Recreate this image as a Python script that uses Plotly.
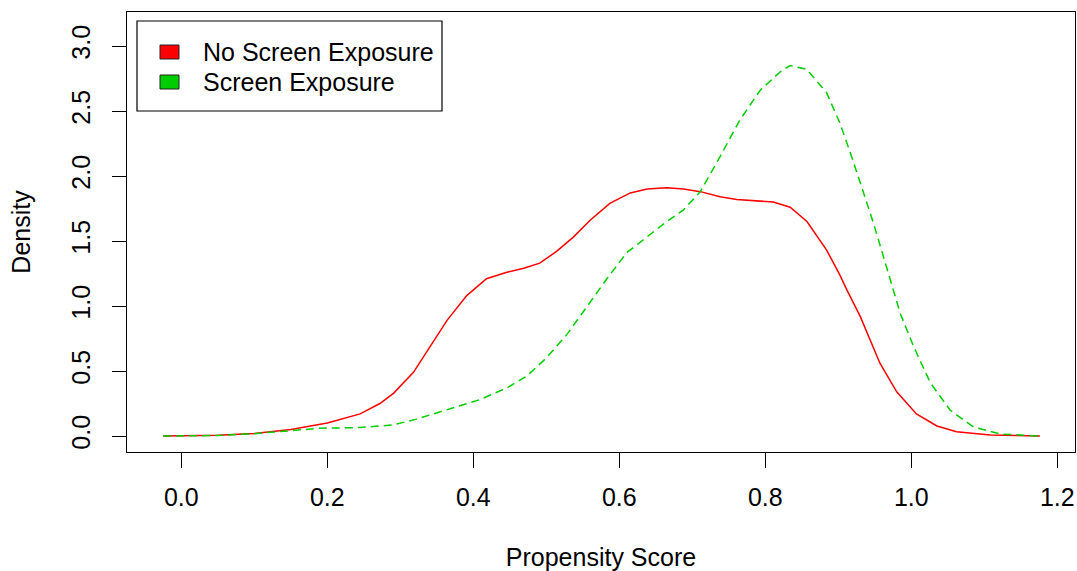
import plotly.graph_objects as go

# Density estimates
x_no = [-0.025, 0.0, 0.05, 0.10, 0.15, 0.20, 0.245, 0.272, 0.291, 0.318, 0.341, 0.364,
        0.391, 0.418, 0.446, 0.469, 0.491, 0.514, 0.537, 0.560, 0.587, 0.615, 0.638,
        0.665, 0.688, 0.711, 0.738, 0.761, 0.811, 0.834, 0.857, 0.884, 0.902, 0.912,
        0.93, 0.957, 0.98, 1.007, 1.035, 1.062, 1.108, 1.176]
y_no = [0.0, 0.0, 0.005, 0.02, 0.05, 0.10, 0.17, 0.25, 0.33, 0.49, 0.69, 0.89,
        1.08, 1.21, 1.26, 1.29, 1.33, 1.42, 1.53, 1.66, 1.79, 1.87, 1.90,
        1.91, 1.90, 1.88, 1.84, 1.82, 1.80, 1.76, 1.65, 1.43, 1.24, 1.12,
        0.92, 0.56, 0.34, 0.17, 0.077, 0.033, 0.008, 0.0]

x_yes = [-0.025, 0.0, 0.05, 0.10, 0.144, 0.19, 0.245, 0.29, 0.322, 0.364, 0.409, 0.446,
         0.473, 0.50, 0.528, 0.555, 0.583, 0.61, 0.638, 0.665, 0.688, 0.711, 0.738,
         0.765, 0.793, 0.82, 0.834, 0.857, 0.884, 0.902, 0.92, 0.948, 0.966, 0.985,
         1.003, 1.026, 1.053, 1.085, 1.122, 1.176]
y_yes = [0.0, 0.0, 0.004, 0.018, 0.04, 0.06, 0.065, 0.085, 0.13, 0.20, 0.28, 0.37,
         0.46, 0.60, 0.78, 0.99, 1.21, 1.41, 1.53, 1.65, 1.74, 1.88, 2.15,
         2.43, 2.66, 2.80, 2.85, 2.82, 2.64, 2.41, 2.12, 1.64, 1.30, 0.94,
         0.69, 0.41, 0.20, 0.07, 0.015, 0.0]

x_ticks = [0.0, 0.2, 0.4, 0.6, 0.8, 1.0, 1.2]
x_tick_labels = ["0.0", "0.2", "0.4", "0.6", "0.8", "1.0", "1.2"]
y_ticks = [0.0, 0.5, 1.0, 1.5, 2.0, 2.5, 3.0]
y_tick_labels = ["0.0", "0.5", "1.0", "1.5", "2.0", "2.5", "3.0"]

series_names = ["No Screen Exposure", "Screen Exposure"]
RED = "#FF0000"
GREEN = "#00CD00"
FONT = "Liberation Sans, Arial, Helvetica, sans-serif"
FS = 25

W, H = 1077, 571
ML, MR, MT, MB = 127, 2, 12, 119
PW, PH = W - ML - MR, H - MT - MB


def px_x(p):
    return (p - ML) / PW


def px_y(p):
    return (H - MB - p) / PH


fig = go.Figure()
fig.add_trace(go.Scatter(x=x_no, y=y_no, mode="lines", name=series_names[0], showlegend=False,
                         line=dict(color=RED, width=1.5), hoverinfo="x+y"))
fig.add_trace(go.Scatter(x=x_yes, y=y_yes, mode="lines", name=series_names[1], showlegend=False,
                         line=dict(color=GREEN, width=1.5, dash="8px,5px"), hoverinfo="x+y"))

# Legend drawn in the R style: framed box with filled square swatches
shapes = [dict(type="rect", xref="paper", yref="paper",
               x0=px_x(137), x1=px_x(442), y0=px_y(111), y1=px_y(21),
               line=dict(color="black", width=1.2), fillcolor="white", layer="above")]
annotations = []
row_y = [52, 82]
for name, col, ry in zip(series_names, [RED, GREEN], row_y):
    shapes.append(dict(type="rect", xref="paper", yref="paper",
                       x0=px_x(160), x1=px_x(179), y0=px_y(ry + 7), y1=px_y(ry - 7),
                       line=dict(color="#222222", width=1), fillcolor=col, layer="above"))
    annotations.append(dict(xref="paper", yref="paper", x=px_x(201), y=px_y(ry),
                            xanchor="left", yanchor="middle", showarrow=False,
                            text=name, font=dict(size=FS, color="black", family=FONT)))

fig.update_layout(
    width=W, height=H,
    margin=dict(l=ML, r=MR, t=MT, b=MB, autoexpand=False),
    paper_bgcolor="white", plot_bgcolor="white",
    font=dict(family=FONT, size=FS, color="black"),
    showlegend=False,
    shapes=shapes, annotations=annotations,
    xaxis=dict(range=[-0.0744, 1.2242], tickvals=x_ticks, ticktext=x_tick_labels,
               automargin=False,
               showgrid=False, zeroline=False, showline=True, mirror=True,
               linecolor="black", linewidth=1.3, ticks="outside", ticklen=15,
               tickwidth=1.3, tickcolor="black", ticklabelstandoff=8,
               title=dict(text="Propensity Score", standoff=39,
                          font=dict(size=FS))),
    yaxis=dict(range=[-0.123, 3.262], tickvals=y_ticks, ticktext=y_tick_labels,
               tickangle=-90, automargin=False,
               showgrid=False, zeroline=False, showline=True, mirror=True,
               linecolor="black", linewidth=1.3, ticks="outside", ticklen=14,
               tickwidth=1.3, tickcolor="black", ticklabelstandoff=12,
               title=dict(text="Density", standoff=29, font=dict(size=FS))),
)

fig.write_html("out.html", config={"displayModeBar": False},
               post_script="document.body.style.margin='0px';")
